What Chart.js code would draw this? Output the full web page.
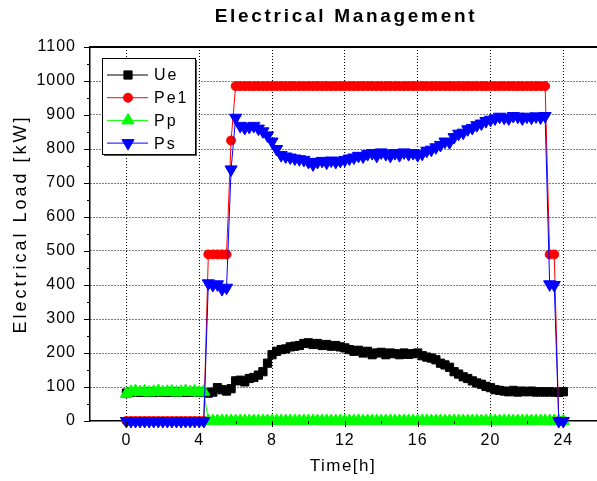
<!DOCTYPE html>
<html>
<head>
<meta charset="utf-8">
<script src="https://cdn.jsdelivr.net/npm/chart.js@4"></script>
<style>
html, body { margin: 0; padding: 0; background: #fff; }
</style>
</head>
<body>
<canvas id="chart" width="597" height="481"></canvas>
<script>
const chartTitle = "Electrical Management";
const xTitle = "Time[h]";
const yTitle = "Electrical Load [kW]";

// x axis tick positions (labels only on every other one)
const xTicks = [0, 2, 4, 6, 8, 10, 12, 14, 16, 18, 20, 22, 24];

// time in hours, 15 min steps
const times = [0, 0.25, 0.5, 0.75, 1, 1.25, 1.5, 1.75, 2, 2.25, 2.5, 2.75, 3, 3.25, 3.5, 3.75,
    4, 4.25, 4.5, 4.75, 5, 5.25, 5.5, 5.75, 6, 6.25, 6.5, 6.75, 7, 7.25, 7.5, 7.75,
    8, 8.25, 8.5, 8.75, 9, 9.25, 9.5, 9.75, 10, 10.25, 10.5, 10.75, 11, 11.25, 11.5, 11.75,
    12, 12.25, 12.5, 12.75, 13, 13.25, 13.5, 13.75, 14, 14.25, 14.5, 14.75, 15, 15.25, 15.5, 15.75,
    16, 16.25, 16.5, 16.75, 17, 17.25, 17.5, 17.75, 18, 18.25, 18.5, 18.75, 19, 19.25, 19.5, 19.75,
    20, 20.25, 20.5, 20.75, 21, 21.25, 21.5, 21.75, 22, 22.25, 22.5, 22.75, 23, 23.25, 23.5, 23.75, 24];

const ue = [82, 85, 86, 84, 86, 85, 84, 86, 85, 84, 86, 85, 86, 84, 85, 86, 85, 84,
    82, 85, 98, 92, 88, 95, 118, 120, 115, 125, 128, 135, 145, 170,
    195, 205, 210, 212, 218, 220, 222, 228, 230, 225, 228, 222, 225, 220, 222, 218,
    215, 210, 205, 208, 200, 205, 195, 200, 202, 195, 200, 198, 195, 200, 196, 198,
    200, 192, 188, 185, 180, 170, 165, 158, 145, 138, 130, 125, 118, 112, 108, 102,
    98, 92, 90, 88, 86, 90, 85, 88, 86, 88, 85, 86, 85, 86, 85, 84, 86];

const pe1 = [0, 0, 0, 0, 0, 0, 0, 0, 0, 0, 0, 0, 0, 0, 0, 0, 0, 0,
    490, 490, 490, 490, 490, 825,
    985, 985, 985, 985, 985, 985, 985, 985, 985, 985, 985, 985, 985, 985, 985, 985,
    985, 985, 985, 985, 985, 985, 985, 985, 985, 985, 985, 985, 985, 985, 985, 985,
    985, 985, 985, 985, 985, 985, 985, 985, 985, 985, 985, 985, 985, 985, 985, 985,
    985, 985, 985, 985, 985, 985, 985, 985, 985, 985, 985, 985, 985, 985, 985, 985,
    985, 985, 985, 985, 985,
    490, 490, 0, 0];

const pp = [80, 86, 88, 85, 87, 84, 86, 88, 85, 86, 87, 84, 86, 88, 85, 87, 84, 86,
    0, 0, 0, 0, 0, 0, 0, 0, 0, 0, 0, 0, 0, 0, 0, 0, 0, 0, 0, 0, 0, 0, 0, 0, 0, 0,
    0, 0, 0, 0, 0, 0, 0, 0, 0, 0, 0, 0, 0, 0, 0, 0, 0, 0, 0, 0, 0, 0, 0, 0, 0, 0,
    0, 0, 0, 0, 0, 0, 0, 0, 0, 0, 0, 0, 0, 0, 0, 0, 0, 0, 0, 0, 0, 0, 0, 0, 0, 0, 0,
    85, 88];

const ps = [0, 0, 0, 0, 0, 0, 0, 0, 0, 0, 0, 0, 0, 0, 0, 0, 0, 0,
    405, 400, 402, 388, 392, 740, 892,
    868, 862, 865, 868, 860, 852, 840, 822, 800, 782, 778, 775, 772, 770, 768, 762,
    755, 762, 765, 760, 766, 762, 765, 768, 772, 775, 780, 778, 785, 788, 780, 790,
    785, 780, 788, 782, 790, 785, 788, 782, 786, 795, 798, 805, 812, 822, 820, 835,
    845, 848, 858, 862, 870, 875, 882, 886, 890, 895, 892, 890, 897, 895, 890, 895,
    892, 896, 893, 897,
    402, 400, 0, 0];

const FONT = "Arial, 'Liberation Sans', sans-serif";

const toPoints = (vals) => times.map((t, i) => ({x: t, y: vals[i]}));

const setSpacing = (ctx, s) => {
    if ('letterSpacing' in ctx) ctx.letterSpacing = s;
};

const series = [
    {label: "Ue", values: ue, color: "#000000", style: "rect", radius: 5.8, rotation: 0, order: 3},
    {label: "Pe1", values: pe1, color: "#ff0000", style: "circle", radius: 4.5, rotation: 0, order: 2},
    {label: "Pp", values: pp, color: "#00ff00", style: "triangle", radius: 7, rotation: 0, order: 1},
    {label: "Ps", values: ps, color: "#0000ff", style: "triangle", radius: 7, rotation: 180, order: 0},
];

const decor = {
    id: "decor",
    beforeLayout(chart) {
        setSpacing(chart.ctx, "1px");
    },
    beforeDraw(chart) {
        const ctx = chart.ctx;
        ctx.save();
        ctx.fillStyle = "#fff";
        ctx.fillRect(0, 0, chart.width, chart.height);
        ctx.restore();
        setSpacing(ctx, "1px");
    },
    afterDraw(chart) {
        const {ctx, chartArea: a, scales: {x, y}} = chart;
        ctx.save();
        ctx.strokeStyle = "#000";

        // top frame line
        ctx.lineWidth = 2;
        ctx.beginPath();
        ctx.moveTo(a.left, a.top);
        ctx.lineTo(chart.width, a.top);
        ctx.stroke();

        // tick marks, major and minor
        ctx.lineWidth = 1;
        ctx.beginPath();
        xTicks.forEach(v => {
            const px = Math.round(x.getPixelForValue(v)) + 0.5;
            const len = v % 4 === 0 ? 6 : 3;
            ctx.moveTo(px, a.bottom);
            ctx.lineTo(px, a.bottom + len);
        });
        for (let v = 0; v <= 1100; v += 50) {
            const py = Math.round(y.getPixelForValue(v)) + 0.5;
            const len = v % 100 === 0 ? 6 : 3;
            ctx.moveTo(a.left, py);
            ctx.lineTo(a.left - len, py);
        }
        ctx.stroke();

        // titles
        ctx.fillStyle = "#000";
        ctx.textAlign = "center";
        ctx.textBaseline = "middle";
        setSpacing(ctx, "2.7px");
        ctx.font = "bold 19px " + FONT;
        ctx.fillText(chartTitle, 346, 17);
        setSpacing(ctx, "1.5px");
        ctx.font = "17px " + FONT;
        ctx.fillText(xTitle, 343, 466);
        setSpacing(ctx, "3px");
        ctx.font = "18px " + FONT;
        ctx.save();
        ctx.translate(21, 224);
        ctx.rotate(-Math.PI / 2);
        ctx.fillText(yTitle, 0, 0);
        ctx.restore();

        // legend box
        const lx = 102, ly = 58, lw = 93, lh = 96;
        ctx.fillStyle = "#555";
        ctx.fillRect(lx + 2, ly + 2, lw, lh);
        ctx.fillStyle = "#fff";
        ctx.fillRect(lx, ly, lw, lh);
        ctx.strokeRect(lx + 0.5, ly + 0.5, lw, lh);

        ctx.textAlign = "left";
        ctx.font = "16px " + FONT;
        setSpacing(ctx, "2px");
        series.forEach((s, i) => {
            const ry = 75 + i * 22.7;
            ctx.strokeStyle = s.color;
            ctx.fillStyle = s.color;
            ctx.lineWidth = 1;
            ctx.beginPath();
            ctx.moveTo(107, ry);
            ctx.lineTo(148, ry);
            ctx.stroke();
            Chart.helpers.drawPoint(ctx, {pointStyle: s.style, radius: s.radius, rotation: s.rotation, borderWidth: 1}, 128, ry);
            ctx.fillStyle = "#000";
            ctx.fillText(s.label, 154, ry + 1);
        });
        ctx.restore();
    }
};

const isMajorX = (v) => v % 4 === 0 && v >= 0 && v <= 24;

new Chart(document.getElementById("chart"), {
    type: "line",
    data: {
        datasets: series.map(s => ({
            label: s.label,
            data: toPoints(s.values),
            borderColor: s.color,
            backgroundColor: s.color,
            borderWidth: 1,
            pointStyle: s.style,
            pointRadius: s.radius,
            pointRotation: s.rotation,
            pointBorderWidth: 1,
            pointBorderColor: s.color,
            pointBackgroundColor: s.color,
            tension: 0,
            clip: false,
            order: s.order
        }))
    },
    options: {
        responsive: false,
        animation: false,
        devicePixelRatio: 1,
        layout: {autoPadding: false, padding: {top: 47, right: 0, left: 0, bottom: 0}},
        plugins: {
            legend: {display: false},
            title: {display: false},
            tooltip: {enabled: false}
        },
        scales: {
            x: {
                type: "linear",
                min: -2,
                max: 25.85,
                afterBuildTicks: (scale) => {
                    scale.ticks = xTicks.map(v => ({value: v}));
                },
                afterFit: (scale) => {
                    scale.height = 60;
                    scale.paddingLeft = 0;
                    scale.paddingRight = 0;
                },
                ticks: {
                    autoSkip: false,
                    maxRotation: 0,
                    padding: 10,
                    color: "#000",
                    font: {family: FONT, size: 16},
                    callback: (v) => isMajorX(v) ? v : ""
                },
                grid: {
                    drawTicks: false,
                    lineWidth: 1,
                    color: (c) => (c.tick && isMajorX(c.tick.value)) ? "#000" : "rgba(0,0,0,0)"
                },
                border: {display: true, color: "#000", width: 1.5, dash: [1, 2]}
            },
            y: {
                type: "linear",
                min: 0,
                max: 1100,
                afterFit: (scale) => {
                    scale.width = 90;
                    scale.paddingTop = 0;
                    scale.paddingBottom = 0;
                },
                ticks: {
                    stepSize: 50,
                    autoSkip: false,
                    padding: 14,
                    color: "#000",
                    font: {family: FONT, size: 16},
                    callback: (v) => v % 100 === 0 ? v : ""
                },
                grid: {
                    drawTicks: false,
                    lineWidth: 1,
                    color: (c) => (c.tick && c.tick.value % 100 === 0 && c.tick.value > 0 && c.tick.value < 1100) ? "#000" : "rgba(0,0,0,0)"
                },
                border: {display: true, color: "#000", width: 1.5, dash: [1, 2]}
            }
        }
    },
    plugins: [decor]
});
</script>
</body>
</html>
